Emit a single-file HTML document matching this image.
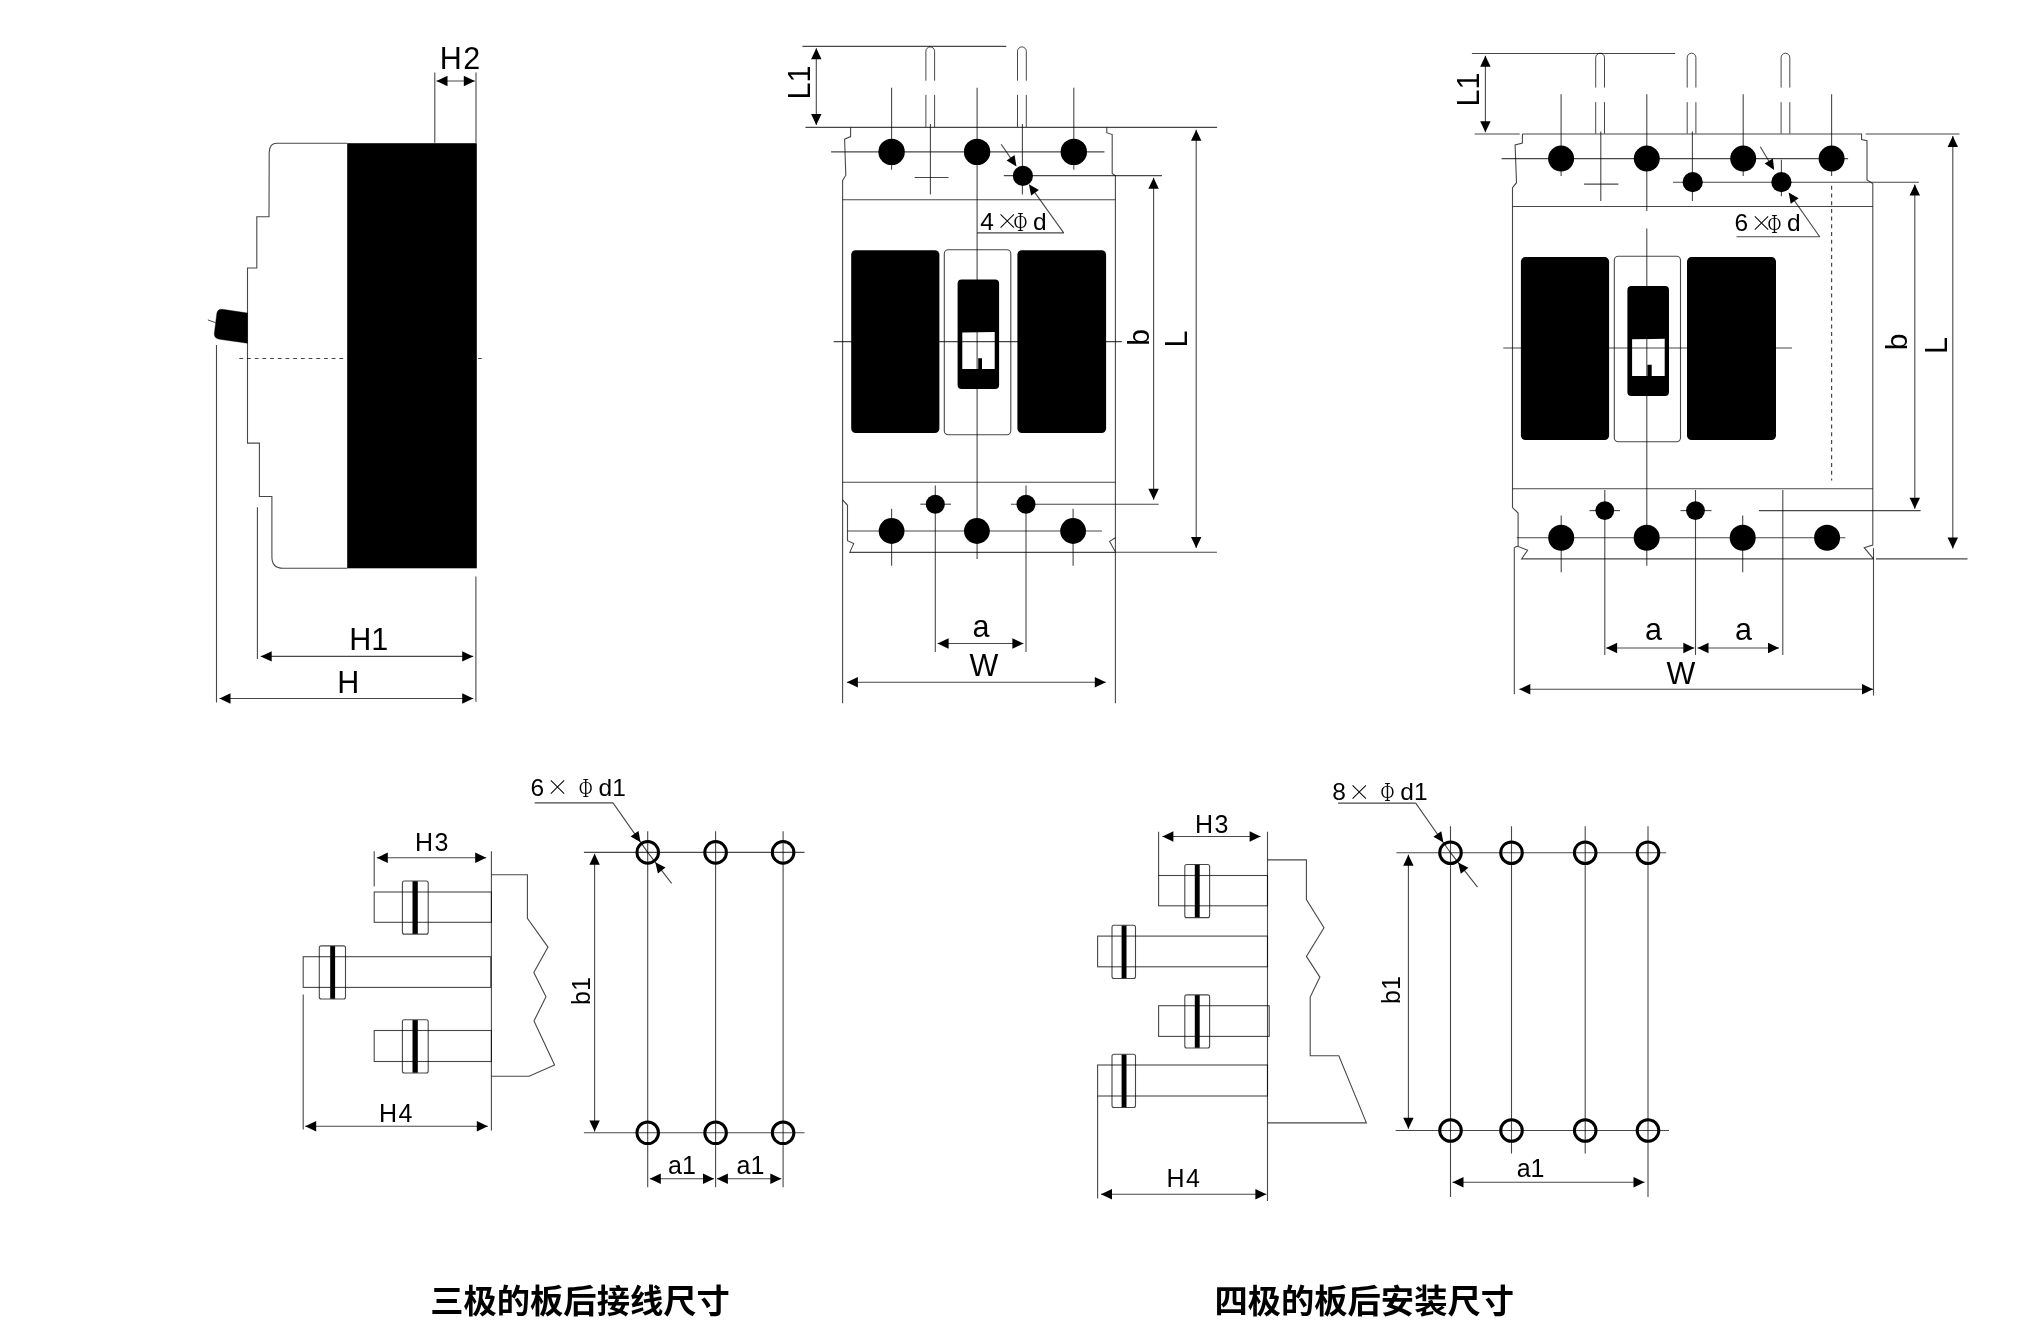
<!DOCTYPE html>
<html lang="zh">
<head>
<meta charset="utf-8">
<title>外形及安装尺寸</title>
<style>
html,body{margin:0;padding:0;background:#fff;}
body{width:2035px;height:1335px;overflow:hidden;}
svg{display:block;will-change:transform;}
svg text{font-family:"Liberation Sans","Noto Sans CJK SC",sans-serif;fill:#000;stroke:none;}
</style>
</head>
<body>
<svg width="2035" height="1335" viewBox="0 0 2035 1335" stroke="#000" stroke-opacity="0.72" fill="none">
<rect x="347.2" y="143.2" width="129.6" height="425.1" rx="0" fill="#000" stroke-width="1.1" stroke="none"/>
<path d="M347.2,143.2 H277 Q269.5,143.2 269.2,152 L269,216.8 H256.8 V268 H247.5 V443.1 H259.4 V496.5 H271.9 V557 Q272,568.3 283,568.3 H347.2" fill="none" stroke-width="1.1"/>
<path d="M247.5,313 L222.5,309.3 Q217.5,308.7 216.8,313.5 L214.3,333.5 Q214,338.3 219.5,339.3 L247.5,343.3 Z" fill="#000" stroke-width="0.5"/>
<line x1="207.9" y1="319.9" x2="215.5" y2="322.7" stroke-width="1"/>
<line x1="239.3" y1="358.5" x2="484.6" y2="358.5" stroke-width="1.1" stroke-dasharray="3.8 3.9"/>
<line x1="434.8" y1="72.6" x2="434.8" y2="142.7" stroke-width="1.1"/>
<line x1="476" y1="72.6" x2="476" y2="142.7" stroke-width="1.1"/>
<line x1="436.5" y1="81" x2="474.8" y2="81" stroke-width="1.1"/>
<polygon points="436.5,81 447.5,75.8 447.5,86.2" fill="#000" stroke="none"/>
<polygon points="474.8,81 463.8,86.2 463.8,75.8" fill="#000" stroke="none"/>
<text x="460.8" y="68.7" font-size="30.5" text-anchor="middle" letter-spacing="1.5">H2</text>
<line x1="257.4" y1="507.3" x2="257.4" y2="658.9" stroke-width="1.1"/>
<line x1="475.9" y1="576.5" x2="475.9" y2="701.7" stroke-width="1.1"/>
<line x1="216.5" y1="344.9" x2="216.5" y2="702.4" stroke-width="1.1"/>
<line x1="260.7" y1="656.4" x2="473.2" y2="656.4" stroke-width="1.1"/>
<polygon points="260.7,656.4 271.7,651.2 271.7,661.6" fill="#000" stroke="none"/>
<polygon points="473.2,656.4 462.2,661.6 462.2,651.2" fill="#000" stroke="none"/>
<line x1="219.5" y1="698.5" x2="473.2" y2="698.5" stroke-width="1.1"/>
<polygon points="219.5,698.5 230.5,693.3 230.5,703.7" fill="#000" stroke="none"/>
<polygon points="473.2,698.5 462.2,703.7 462.2,693.3" fill="#000" stroke="none"/>
<text x="368.8" y="649.7" font-size="30.5" text-anchor="middle">H1</text>
<text x="348.3" y="693" font-size="30.5" text-anchor="middle">H</text>
<line x1="802.4" y1="46.4" x2="1006.2" y2="46.4" stroke-width="1.1"/>
<line x1="816.3" y1="48.3" x2="816.3" y2="125" stroke-width="1.1"/>
<polygon points="816.3,48.3 821.5,59.3 811.1,59.3" fill="#000" stroke="none"/>
<polygon points="816.3,125 811.1,114.0 821.5,114.0" fill="#000" stroke="none"/>
<text x="809.6" y="82.5" font-size="30.5" text-anchor="middle" transform="rotate(-90 809.6 82.5)">L1</text>
<line x1="805.5" y1="127.4" x2="1217.1" y2="127.4" stroke-width="1.1"/>
<path d="M925.9,80.7 V51.25 A4.35,4.35 0 0 1 934.6,51.25 V80.7" fill="none" stroke-width="1"/>
<line x1="925.9" y1="94.9" x2="925.9" y2="127" stroke-width="1"/>
<line x1="934.6" y1="94.9" x2="934.6" y2="127" stroke-width="1"/>
<path d="M1017.5,80.7 V51.3 A4.4,4.4 0 0 1 1026.3,51.3 V80.7" fill="none" stroke-width="1"/>
<line x1="1017.5" y1="94.9" x2="1017.5" y2="127" stroke-width="1"/>
<line x1="1026.3" y1="94.9" x2="1026.3" y2="127" stroke-width="1"/>
<path d="M850.6,127.4 V136.6 L844.6,139.2 L845.8,175.2 L842.6,180.4 V703.3" fill="none" stroke-width="1.1"/>
<path d="M1106.8,127.4 V132.7 L1112.2,134.6 V173.4 L1115.4,175.8 V551.8" fill="none" stroke-width="1.1"/>
<line x1="842.6" y1="199.8" x2="1115.4" y2="199.8" stroke-width="1.1"/>
<line x1="842.6" y1="482.2" x2="1115.4" y2="482.2" stroke-width="1.1"/>
<path d="M842.6,499.8 L847.5,505.3 V540.7 L853.7,543.6 L849.8,552.4 H1115.4" fill="none" stroke-width="1.1"/>
<path d="M1115.4,537.8 L1109.6,541.4 L1115.4,551.8 V703.3" fill="none" stroke-width="1.1"/>
<line x1="831.1" y1="151.9" x2="1104.4" y2="151.9" stroke-width="1.1"/>
<line x1="891.6" y1="87.8" x2="891.6" y2="169.8" stroke-width="1.1"/>
<line x1="1073.8" y1="87.8" x2="1073.8" y2="169.8" stroke-width="1.1"/>
<line x1="977.1" y1="87.8" x2="977.1" y2="559.1" stroke-width="1.1"/>
<line x1="930.4" y1="123.9" x2="930.4" y2="194.6" stroke-width="1.1"/>
<line x1="914.6" y1="177.5" x2="948.6" y2="177.5" stroke-width="1.1"/>
<line x1="1022.4" y1="123.9" x2="1022.4" y2="194.6" stroke-width="1.1"/>
<line x1="1003.8" y1="175.6" x2="1162" y2="175.6" stroke-width="1.1"/>
<circle cx="891.6" cy="151.9" r="13.2" fill="#000" stroke="none"/>
<circle cx="977.1" cy="151.9" r="13.2" fill="#000" stroke="none"/>
<circle cx="1073.8" cy="151.9" r="13.2" fill="#000" stroke="none"/>
<circle cx="1022.9" cy="175.8" r="10.1" fill="#000" stroke="none"/>
<line x1="1001.2" y1="144.2" x2="1015.37" y2="164.84" stroke-width="1.1"/>
<line x1="1030.05" y1="185.81" x2="1063.7" y2="232.9" stroke-width="1.1"/>
<polygon points="1016.5,166.48 1006.6,160.55 1014.52,155.11" fill="#000" stroke="none"/>
<polygon points="1028.89,184.18 1038.9,189.93 1031.09,195.51" fill="#000" stroke="none"/>
<line x1="977.1" y1="232.9" x2="1063.7" y2="232.9" stroke-width="1.1"/>
<text x="980.3" y="229.7" font-size="24.5" text-anchor="start">4</text>
<text x="1007.3" y="228.9" font-size="23" text-anchor="middle" style='font-family:"Noto Serif CJK SC", "Liberation Serif", serif'>×</text>
<text x="1020.5" y="230.9" font-size="24.5" text-anchor="middle" transform="translate(1020.5 230.9) scale(0.72 1) translate(-1020.5 -230.9)" style='font-family:"Noto Serif CJK SC", "Liberation Serif", serif'>Φ</text>
<text x="1033" y="229.7" font-size="24.5" text-anchor="start">d</text>
<rect x="851.2" y="250.3" width="88.2" height="182.8" rx="4.5" fill="#000" stroke-width="1.1" stroke="none"/>
<rect x="944.3" y="249.7" width="66.5" height="185.0" rx="4" fill="none" stroke-width="1.1"/>
<rect x="1017.4" y="250.3" width="88.7" height="182.8" rx="4.5" fill="#000" stroke-width="1.1" stroke="none"/>
<path d="M961.6,279.6 H995.1 A4,4 0 0 1 999.1,283.6 V385 A4,4 0 0 1 995.1,389 H961.6 A4,4 0 0 1 957.6,385 V283.6 A4,4 0 0 1 961.6,279.6 Z M962.3,332.4 L994.7,331.9 V369 H982 V358.2 H978.2 V369 H962.3 Z" fill="#000" fill-rule="evenodd" stroke="none"/>
<line x1="833.7" y1="341.6" x2="1121.9" y2="341.6" stroke-width="1.1"/>
<line x1="847.5" y1="531" x2="1101.9" y2="531" stroke-width="1.1"/>
<line x1="891.6" y1="508.7" x2="891.6" y2="565.7" stroke-width="1.1"/>
<line x1="1073.1" y1="508.7" x2="1073.1" y2="565.7" stroke-width="1.1"/>
<line x1="935.3" y1="485.4" x2="935.3" y2="652" stroke-width="1.1"/>
<line x1="1026" y1="485.4" x2="1026" y2="652" stroke-width="1.1"/>
<line x1="920.3" y1="504.2" x2="951" y2="504.2" stroke-width="1.1"/>
<line x1="1011" y1="504.2" x2="1158.7" y2="504.2" stroke-width="1.1"/>
<circle cx="891.6" cy="531" r="12.9" fill="#000" stroke="none"/>
<circle cx="976.9" cy="531" r="12.9" fill="#000" stroke="none"/>
<circle cx="1073.1" cy="531" r="12.9" fill="#000" stroke="none"/>
<circle cx="935.3" cy="504.2" r="9.5" fill="#000" stroke="none"/>
<circle cx="1026" cy="504.2" r="9.5" fill="#000" stroke="none"/>
<line x1="1153.6" y1="177.8" x2="1153.6" y2="499.8" stroke-width="1.1"/>
<polygon points="1153.6,177.8 1158.8,188.8 1148.4,188.8" fill="#000" stroke="none"/>
<polygon points="1153.6,499.8 1148.4,488.8 1158.8,488.8" fill="#000" stroke="none"/>
<line x1="1196.2" y1="129.8" x2="1196.2" y2="548" stroke-width="1.1"/>
<polygon points="1196.2,129.8 1201.4,140.8 1191.0,140.8" fill="#000" stroke="none"/>
<polygon points="1196.2,548 1191.0,537.0 1201.4,537.0" fill="#000" stroke="none"/>
<line x1="1115.4" y1="552.2" x2="1216.9" y2="552.2" stroke-width="1.1"/>
<text x="1149.3" y="337.4" font-size="30" text-anchor="middle" transform="rotate(-90 1149.3 337.4)">b</text>
<text x="1187" y="339" font-size="30.5" text-anchor="middle" transform="rotate(-90 1187 339)">L</text>
<line x1="937.6" y1="643.5" x2="1023.4" y2="643.5" stroke-width="1.1"/>
<polygon points="937.6,643.5 948.6,638.3 948.6,648.7" fill="#000" stroke="none"/>
<polygon points="1023.4,643.5 1012.4,648.7 1012.4,638.3" fill="#000" stroke="none"/>
<text x="981" y="637" font-size="30.5" text-anchor="middle">a</text>
<line x1="846.9" y1="682.2" x2="1105.8" y2="682.2" stroke-width="1.1"/>
<polygon points="846.9,682.2 857.9,677.0 857.9,687.4" fill="#000" stroke="none"/>
<polygon points="1105.8,682.2 1094.8,687.4 1094.8,677.0" fill="#000" stroke="none"/>
<text x="984" y="676.3" font-size="30.5" text-anchor="middle">W</text>
<line x1="1471.9" y1="53.5" x2="1675.1" y2="53.5" stroke-width="1.1"/>
<line x1="1485.4" y1="55.7" x2="1485.4" y2="132.2" stroke-width="1.1"/>
<polygon points="1485.4,55.7 1490.6,66.7 1480.2,66.7" fill="#000" stroke="none"/>
<polygon points="1485.4,132.2 1480.2,121.2 1490.6,121.2" fill="#000" stroke="none"/>
<text x="1479.2" y="89.5" font-size="30.5" text-anchor="middle" transform="rotate(-90 1479.2 89.5)">L1</text>
<line x1="1474.6" y1="134" x2="1519.7" y2="134" stroke-width="1.1"/>
<line x1="1865.7" y1="134" x2="1959.5" y2="134" stroke-width="1.1"/>
<path d="M1595.7,87.6 V57.6 A4.4,4.4 0 0 1 1604.5,57.6 V87.6" fill="none" stroke-width="1"/>
<line x1="1595.7" y1="102.2" x2="1595.7" y2="133.6" stroke-width="1"/>
<line x1="1604.5" y1="102.2" x2="1604.5" y2="133.6" stroke-width="1"/>
<path d="M1687.2,87.6 V57.550000000000004 A4.35,4.35 0 0 1 1695.9,57.550000000000004 V87.6" fill="none" stroke-width="1"/>
<line x1="1687.2" y1="102.2" x2="1687.2" y2="133.6" stroke-width="1"/>
<line x1="1695.9" y1="102.2" x2="1695.9" y2="133.6" stroke-width="1"/>
<path d="M1781.1,87.6 V57.550000000000004 A4.35,4.35 0 0 1 1789.8,57.550000000000004 V87.6" fill="none" stroke-width="1"/>
<line x1="1781.1" y1="102.2" x2="1781.1" y2="133.6" stroke-width="1"/>
<line x1="1789.8" y1="102.2" x2="1789.8" y2="133.6" stroke-width="1"/>
<path d="M1522.4,134 H1861.6 V139.5 L1867,140.8 V180 L1872.8,183.5 V545 L1864.2,547.7 L1873.5,558.9" fill="none" stroke-width="1.1"/>
<path d="M1522.4,134 V143 L1515.1,144.9 L1516.5,182.7 L1512.5,187.6 V507.6 L1518.1,513.1 V546.4 L1527.6,550.2 L1521.6,558.9 H1873.5" fill="none" stroke-width="1.1"/>
<line x1="1873.5" y1="548.1" x2="1873.5" y2="695.6" stroke-width="1.1"/>
<line x1="1512.5" y1="206.5" x2="1872.8" y2="206.5" stroke-width="1.1"/>
<line x1="1512.5" y1="488.8" x2="1872.8" y2="488.8" stroke-width="1.1"/>
<path d="M1518.1,546.2 L1516.4,546.5 L1514.3,547.8 V694.3" fill="none" stroke-width="1.1"/>
<line x1="1501.6" y1="158.6" x2="1848.1" y2="158.6" stroke-width="1.1"/>
<line x1="1561.1" y1="94.3" x2="1561.1" y2="176" stroke-width="1.1"/>
<line x1="1743.2" y1="94.3" x2="1743.2" y2="176" stroke-width="1.1"/>
<line x1="1831.6" y1="94.3" x2="1831.6" y2="176" stroke-width="1.1"/>
<line x1="1646.8" y1="94.3" x2="1646.8" y2="211" stroke-width="1.1"/>
<line x1="1646.8" y1="228.6" x2="1646.8" y2="565.7" stroke-width="1.1"/>
<line x1="1600.8" y1="131.4" x2="1600.8" y2="201.1" stroke-width="1.1"/>
<line x1="1584.1" y1="184.1" x2="1618.4" y2="184.1" stroke-width="1.1"/>
<line x1="1692.4" y1="131.4" x2="1692.4" y2="201.1" stroke-width="1.1"/>
<line x1="1781.4" y1="159.7" x2="1781.4" y2="196.2" stroke-width="1.1"/>
<line x1="1673" y1="182.3" x2="1918.9" y2="182.3" stroke-width="1.1"/>
<circle cx="1561.1" cy="158.6" r="13" fill="#000" stroke="none"/>
<circle cx="1646.8" cy="158.6" r="13" fill="#000" stroke="none"/>
<circle cx="1743.2" cy="158.6" r="13" fill="#000" stroke="none"/>
<circle cx="1831.6" cy="158.6" r="13" fill="#000" stroke="none"/>
<circle cx="1692.7" cy="182.2" r="10.1" fill="#000" stroke="none"/>
<circle cx="1781.4" cy="182.2" r="10.1" fill="#000" stroke="none"/>
<line x1="1831.6" y1="185.8" x2="1831.6" y2="480.6" stroke-width="1.2" stroke-dasharray="4 3.7"/>
<line x1="1760.3" y1="146.8" x2="1773.11" y2="168.28" stroke-width="1.1"/>
<line x1="1789.78" y1="194.15" x2="1819.7" y2="236.8" stroke-width="1.1"/>
<polygon points="1774.13,170.0 1764.63,163.44 1772.88,158.53" fill="#000" stroke="none"/>
<polygon points="1788.64,192.52 1798.6,198.35 1790.74,203.87" fill="#000" stroke="none"/>
<line x1="1736.5" y1="236.8" x2="1819.7" y2="236.8" stroke-width="1.1"/>
<text x="1734.6" y="231.4" font-size="24.5" text-anchor="start">6</text>
<text x="1761.5" y="230.6" font-size="23" text-anchor="middle" style='font-family:"Noto Serif CJK SC", "Liberation Serif", serif'>×</text>
<text x="1774.6" y="232.6" font-size="24.5" text-anchor="middle" transform="translate(1774.6 232.6) scale(0.72 1) translate(-1774.6 -232.6)" style='font-family:"Noto Serif CJK SC", "Liberation Serif", serif'>Φ</text>
<text x="1787" y="231.4" font-size="24.5" text-anchor="start">d</text>
<rect x="1520.9" y="257.1" width="88.2" height="182.9" rx="4.5" fill="#000" stroke-width="1.1" stroke="none"/>
<rect x="1614.3" y="256.3" width="66.2" height="185.5" rx="4" fill="none" stroke-width="1.1"/>
<rect x="1687" y="257.1" width="89" height="182.9" rx="4.5" fill="#000" stroke-width="1.1" stroke="none"/>
<path d="M1631.4,286.1 H1665 A4,4 0 0 1 1669,290.1 V391.9 A4,4 0 0 1 1665,395.9 H1631.4 A4,4 0 0 1 1627.4,391.9 V290.1 A4,4 0 0 1 1631.4,286.1 Z M1632.1,339.3 L1664.7,338.8 V376.1 H1651.7 V364.8 H1647.4 V376.1 H1632.1 Z" fill="#000" fill-rule="evenodd" stroke="none"/>
<line x1="1503.3" y1="348" x2="1792" y2="348" stroke-width="1.1"/>
<line x1="1516.8" y1="537.7" x2="1845.4" y2="537.7" stroke-width="1.1"/>
<line x1="1561.2" y1="515.6" x2="1561.2" y2="572.3" stroke-width="1.1"/>
<line x1="1742.7" y1="515.6" x2="1742.7" y2="572.3" stroke-width="1.1"/>
<line x1="1604.8" y1="490" x2="1604.8" y2="655" stroke-width="1.1"/>
<line x1="1695.5" y1="490" x2="1695.5" y2="655" stroke-width="1.1"/>
<line x1="1782.8" y1="490" x2="1782.8" y2="655" stroke-width="1.1"/>
<line x1="1589.5" y1="510.6" x2="1620" y2="510.6" stroke-width="1.1"/>
<line x1="1680.5" y1="510.6" x2="1711.5" y2="510.6" stroke-width="1.1"/>
<line x1="1759" y1="510.6" x2="1920.6" y2="510.6" stroke-width="1.1"/>
<circle cx="1561.2" cy="537.7" r="13" fill="#000" stroke="none"/>
<circle cx="1646.7" cy="537.7" r="13" fill="#000" stroke="none"/>
<circle cx="1742.7" cy="537.7" r="13" fill="#000" stroke="none"/>
<circle cx="1827.1" cy="537.7" r="13" fill="#000" stroke="none"/>
<circle cx="1604.8" cy="510.6" r="9.4" fill="#000" stroke="none"/>
<circle cx="1695.5" cy="510.6" r="9.4" fill="#000" stroke="none"/>
<line x1="1914.8" y1="184.6" x2="1914.8" y2="508.8" stroke-width="1.1"/>
<polygon points="1914.8,184.6 1920.0,195.6 1909.6,195.6" fill="#000" stroke="none"/>
<polygon points="1914.8,508.8 1909.6,497.8 1920.0,497.8" fill="#000" stroke="none"/>
<line x1="1952.8" y1="135.9" x2="1952.8" y2="548.6" stroke-width="1.1"/>
<polygon points="1952.8,135.9 1958.0,146.9 1947.6,146.9" fill="#000" stroke="none"/>
<polygon points="1952.8,548.6 1947.6,537.6 1958.0,537.6" fill="#000" stroke="none"/>
<line x1="1876" y1="558.9" x2="1967.5" y2="558.9" stroke-width="1.1"/>
<text x="1907.3" y="341.9" font-size="30" text-anchor="middle" transform="rotate(-90 1907.3 341.9)">b</text>
<text x="1947.4" y="345.5" font-size="30.5" text-anchor="middle" transform="rotate(-90 1947.4 345.5)">L</text>
<line x1="1606.1" y1="648" x2="1694.3" y2="648" stroke-width="1.1"/>
<polygon points="1606.1,648 1617.1,642.8 1617.1,653.2" fill="#000" stroke="none"/>
<polygon points="1694.3,648 1683.3,653.2 1683.3,642.8" fill="#000" stroke="none"/>
<line x1="1697.5" y1="648" x2="1779" y2="648" stroke-width="1.1"/>
<polygon points="1697.5,648 1708.5,642.8 1708.5,653.2" fill="#000" stroke="none"/>
<polygon points="1779,648 1768.0,653.2 1768.0,642.8" fill="#000" stroke="none"/>
<text x="1653.4" y="640.4" font-size="30.5" text-anchor="middle">a</text>
<text x="1743.4" y="640.4" font-size="30.5" text-anchor="middle">a</text>
<line x1="1519.3" y1="689.3" x2="1873" y2="689.3" stroke-width="1.1"/>
<polygon points="1519.3,689.3 1530.3,684.1 1530.3,694.5" fill="#000" stroke="none"/>
<polygon points="1873,689.3 1862.0,694.5 1862.0,684.1" fill="#000" stroke="none"/>
<text x="1681" y="683.8" font-size="30.5" text-anchor="middle">W</text>
<path d="M491.4,874.8 H527.4 V918.2 L548,947.1 L533.8,972.5 L546,996.8 L534,1020.9 L554.6,1065 L529.1,1076.3 H491.4" fill="none" stroke-width="1.1"/>
<line x1="491.4" y1="851.2" x2="491.4" y2="1130.4" stroke-width="1.1"/>
<line x1="374.2" y1="851.2" x2="374.2" y2="886.5" stroke-width="1.1"/>
<rect x="374.2" y="892" width="117.2" height="30.3" rx="0" fill="none" stroke-width="1.1"/>
<rect x="402.4" y="880.9499999999999" width="25.8" height="53.2" rx="2" fill="none" stroke-width="1.1"/>
<rect x="412.5" y="881.2499999999999" width="5.3" height="52.6" rx="0" fill="#000" stroke-width="1.1" stroke="none"/>
<rect x="303.2" y="956.7" width="187.6" height="30.7" rx="0" fill="none" stroke-width="1.1"/>
<rect x="319.3" y="945.8499999999999" width="26.2" height="53.2" rx="2" fill="none" stroke-width="1.1"/>
<rect x="330.2" y="946.1499999999999" width="4.9" height="52.6" rx="0" fill="#000" stroke-width="1.1" stroke="none"/>
<rect x="374.2" y="1030.5" width="117.2" height="31.0" rx="0" fill="none" stroke-width="1.1"/>
<rect x="402.4" y="1019.8" width="25.8" height="53.2" rx="2" fill="none" stroke-width="1.1"/>
<rect x="412.5" y="1020.0999999999999" width="5.3" height="52.6" rx="0" fill="#000" stroke-width="1.1" stroke="none"/>
<line x1="376.8" y1="857.8" x2="486.2" y2="857.8" stroke-width="1.1"/>
<polygon points="376.8,857.8 387.8,852.6 387.8,863.0" fill="#000" stroke="none"/>
<polygon points="486.2,857.8 475.2,863.0 475.2,852.6" fill="#000" stroke="none"/>
<text x="432.4" y="851" font-size="25" text-anchor="middle" letter-spacing="1.5">H3</text>
<line x1="303.2" y1="994.5" x2="303.2" y2="1129.4" stroke-width="1.1"/>
<line x1="305.2" y1="1126.3" x2="487.8" y2="1126.3" stroke-width="1.1"/>
<polygon points="305.2,1126.3 316.2,1121.1 316.2,1131.5" fill="#000" stroke="none"/>
<polygon points="487.8,1126.3 476.8,1131.5 476.8,1121.1" fill="#000" stroke="none"/>
<text x="396.5" y="1121.8" font-size="25" text-anchor="middle" letter-spacing="1.5">H4</text>
<line x1="583.9" y1="852.4" x2="804.5" y2="852.4" stroke-width="1.1"/>
<line x1="583.9" y1="1132.8" x2="804.5" y2="1132.8" stroke-width="1.1"/>
<line x1="647.7" y1="831.3" x2="647.7" y2="1187.3" stroke-width="1.1"/>
<circle cx="647.7" cy="852.4" r="10.8" fill="none" stroke="#000" stroke-opacity="1" stroke-width="3"/>
<circle cx="647.7" cy="1132.8" r="10.8" fill="none" stroke="#000" stroke-opacity="1" stroke-width="3"/>
<line x1="715.6" y1="831.3" x2="715.6" y2="1187.3" stroke-width="1.1"/>
<circle cx="715.6" cy="852.4" r="10.8" fill="none" stroke="#000" stroke-opacity="1" stroke-width="3"/>
<circle cx="715.6" cy="1132.8" r="10.8" fill="none" stroke="#000" stroke-opacity="1" stroke-width="3"/>
<line x1="783.1" y1="831.3" x2="783.1" y2="1187.3" stroke-width="1.1"/>
<circle cx="783.1" cy="852.4" r="10.8" fill="none" stroke="#000" stroke-opacity="1" stroke-width="3"/>
<circle cx="783.1" cy="1132.8" r="10.8" fill="none" stroke="#000" stroke-opacity="1" stroke-width="3"/>
<line x1="594.6" y1="853.7" x2="594.6" y2="1131.5" stroke-width="1.1"/>
<polygon points="594.6,853.7 599.8,864.7 589.4,864.7" fill="#000" stroke="none"/>
<polygon points="594.6,1131.5 589.4,1120.5 599.8,1120.5" fill="#000" stroke="none"/>
<text x="590.1" y="991" font-size="25" text-anchor="middle" transform="rotate(-90 590.1 991)">b1</text>
<line x1="649.8" y1="1178.8" x2="714" y2="1178.8" stroke-width="1.1"/>
<polygon points="649.8,1178.8 660.8,1173.6 660.8,1184.0" fill="#000" stroke="none"/>
<polygon points="714,1178.8 703.0,1184.0 703.0,1173.6" fill="#000" stroke="none"/>
<line x1="716.9" y1="1178.8" x2="781.3" y2="1178.8" stroke-width="1.1"/>
<polygon points="716.9,1178.8 727.9,1173.6 727.9,1184.0" fill="#000" stroke="none"/>
<polygon points="781.3,1178.8 770.3,1184.0 770.3,1173.6" fill="#000" stroke="none"/>
<text x="682" y="1173.5" font-size="25" text-anchor="middle">a1</text>
<text x="750.4" y="1173.5" font-size="25" text-anchor="middle">a1</text>
<line x1="534.6" y1="802.9" x2="613.0" y2="802.9" stroke-width="1.1"/>
<polyline points="613.0,802.9 647.7,852.4 671.6,883.3" fill="none" stroke-width="1.1"/>
<polygon points="640.58,842.25 630.62,836.4 638.49,830.89" fill="#000" stroke="none"/>
<polygon points="655.29,862.21 665.51,867.58 657.91,873.45" fill="#000" stroke="none"/>
<text x="530.5" y="795.7" font-size="24.5" text-anchor="start">6</text>
<text x="557.5" y="794.9" font-size="23" text-anchor="middle" style='font-family:"Noto Serif CJK SC", "Liberation Serif", serif'>×</text>
<text x="585.7" y="796.7" font-size="24.5" text-anchor="middle" transform="translate(585.7 796.7) scale(0.72 1) translate(-585.7 -796.7)" style='font-family:"Noto Serif CJK SC", "Liberation Serif", serif'>Φ</text>
<text x="598.6" y="795.7" font-size="24.5" text-anchor="start">d1</text>
<path d="M1267.5,859.9 H1306.4 V899.6 L1324,927.8 L1306.4,956.4 L1319.9,977.1 L1310.2,997.1 V1055.7 H1338.8 L1366.4,1122.9 H1267.5" fill="none" stroke-width="1.1"/>
<line x1="1267.5" y1="831.7" x2="1267.5" y2="1201.1" stroke-width="1.1"/>
<line x1="1158.6" y1="831.7" x2="1158.6" y2="875.5" stroke-width="1.1"/>
<rect x="1158.6" y="875.5" width="108.9" height="30.3" rx="0" fill="none" stroke-width="1.1"/>
<rect x="1184.8" y="864.4499999999999" width="24.8" height="53.2" rx="2" fill="none" stroke-width="1.1"/>
<rect x="1194.8" y="864.7499999999999" width="4.9" height="52.6" rx="0" fill="#000" stroke-width="1.1" stroke="none"/>
<rect x="1097.6" y="936.1" width="169.9" height="30.7" rx="0" fill="none" stroke-width="1.1"/>
<rect x="1112" y="925.25" width="23.5" height="53.2" rx="2" fill="none" stroke-width="1.1"/>
<rect x="1121.6" y="925.55" width="4.9" height="52.6" rx="0" fill="#000" stroke-width="1.1" stroke="none"/>
<rect x="1158.6" y="1005.7" width="110.6" height="30.7" rx="0" fill="none" stroke-width="1.1"/>
<rect x="1184.8" y="994.85" width="24.8" height="53.2" rx="2" fill="none" stroke-width="1.1"/>
<rect x="1194.8" y="995.15" width="4.9" height="52.6" rx="0" fill="#000" stroke-width="1.1" stroke="none"/>
<rect x="1097.6" y="1065" width="169.9" height="31" rx="0" fill="none" stroke-width="1.1"/>
<rect x="1112" y="1054.3" width="23.5" height="53.2" rx="2" fill="none" stroke-width="1.1"/>
<rect x="1121.6" y="1054.6" width="4.9" height="52.6" rx="0" fill="#000" stroke-width="1.1" stroke="none"/>
<line x1="1162.4" y1="836.5" x2="1260.6" y2="836.5" stroke-width="1.1"/>
<polygon points="1162.4,836.5 1173.4,831.3 1173.4,841.7" fill="#000" stroke="none"/>
<polygon points="1260.6,836.5 1249.6,841.7 1249.6,831.3" fill="#000" stroke="none"/>
<text x="1212.5" y="833.4" font-size="25" text-anchor="middle" letter-spacing="1.5">H3</text>
<line x1="1097.6" y1="1096" x2="1097.6" y2="1198.4" stroke-width="1.1"/>
<line x1="1101" y1="1194.2" x2="1266.4" y2="1194.2" stroke-width="1.1"/>
<polygon points="1101,1194.2 1112.0,1189.0 1112.0,1199.4" fill="#000" stroke="none"/>
<polygon points="1266.4,1194.2 1255.4,1199.4 1255.4,1189.0" fill="#000" stroke="none"/>
<text x="1184" y="1187.4" font-size="25" text-anchor="middle" letter-spacing="1.5">H4</text>
<line x1="1396.4" y1="852.7" x2="1666.2" y2="852.7" stroke-width="1.1"/>
<line x1="1395.7" y1="1130.5" x2="1669" y2="1130.5" stroke-width="1.1"/>
<line x1="1450.5" y1="826.2" x2="1450.5" y2="1197" stroke-width="1.1"/>
<circle cx="1450.5" cy="852.7" r="10.8" fill="none" stroke="#000" stroke-opacity="1" stroke-width="3"/>
<circle cx="1450.5" cy="1130.5" r="10.8" fill="none" stroke="#000" stroke-opacity="1" stroke-width="3"/>
<line x1="1511.5" y1="826.2" x2="1511.5" y2="1153.6" stroke-width="1.1"/>
<circle cx="1511.5" cy="852.7" r="10.8" fill="none" stroke="#000" stroke-opacity="1" stroke-width="3"/>
<circle cx="1511.5" cy="1130.5" r="10.8" fill="none" stroke="#000" stroke-opacity="1" stroke-width="3"/>
<line x1="1585.2" y1="826.2" x2="1585.2" y2="1153.6" stroke-width="1.1"/>
<circle cx="1585.2" cy="852.7" r="10.8" fill="none" stroke="#000" stroke-opacity="1" stroke-width="3"/>
<circle cx="1585.2" cy="1130.5" r="10.8" fill="none" stroke="#000" stroke-opacity="1" stroke-width="3"/>
<line x1="1648" y1="826.2" x2="1648" y2="1197" stroke-width="1.1"/>
<circle cx="1648" cy="852.7" r="10.8" fill="none" stroke="#000" stroke-opacity="1" stroke-width="3"/>
<circle cx="1648" cy="1130.5" r="10.8" fill="none" stroke="#000" stroke-opacity="1" stroke-width="3"/>
<line x1="1408.4" y1="854.8" x2="1408.4" y2="1128.8" stroke-width="1.1"/>
<polygon points="1408.4,854.8 1413.6,865.8 1403.2,865.8" fill="#000" stroke="none"/>
<polygon points="1408.4,1128.8 1403.2,1117.8 1413.6,1117.8" fill="#000" stroke="none"/>
<text x="1400.2" y="990" font-size="25" text-anchor="middle" transform="rotate(-90 1400.2 990)">b1</text>
<line x1="1452.5" y1="1182.2" x2="1644.5" y2="1182.2" stroke-width="1.1"/>
<polygon points="1452.5,1182.2 1463.5,1177.0 1463.5,1187.4" fill="#000" stroke="none"/>
<polygon points="1644.5,1182.2 1633.5,1187.4 1633.5,1177.0" fill="#000" stroke="none"/>
<text x="1530.6" y="1177" font-size="25" text-anchor="middle">a1</text>
<line x1="1338.1" y1="803.1" x2="1415.7" y2="803.1" stroke-width="1.1"/>
<polyline points="1415.7,803.1 1450.5,852.7 1477.5,887.2" fill="none" stroke-width="1.1"/>
<polygon points="1443.38,842.55 1433.42,836.71 1441.28,831.2" fill="#000" stroke="none"/>
<polygon points="1458.14,862.47 1468.39,867.78 1460.83,873.69" fill="#000" stroke="none"/>
<text x="1332.2" y="800.3" font-size="24.5" text-anchor="start">8</text>
<text x="1359.2" y="799.5" font-size="23" text-anchor="middle" style='font-family:"Noto Serif CJK SC", "Liberation Serif", serif'>×</text>
<text x="1387.4" y="801.3" font-size="24.5" text-anchor="middle" transform="translate(1387.4 801.3) scale(0.72 1) translate(-1387.4 -801.3)" style='font-family:"Noto Serif CJK SC", "Liberation Serif", serif'>Φ</text>
<text x="1400.3" y="800.3" font-size="24.5" text-anchor="start">d1</text>
<text x="430.2" y="1313" font-size="33.3" text-anchor="start" font-weight="bold" style='font-family:"Liberation Sans", "Noto Sans CJK SC", sans-serif'>三极的板后接线尺寸</text>
<text x="1214.4" y="1313" font-size="33.3" text-anchor="start" font-weight="bold" style='font-family:"Liberation Sans", "Noto Sans CJK SC", sans-serif'>四极的板后安装尺寸</text>
</svg>
</body>
</html>
